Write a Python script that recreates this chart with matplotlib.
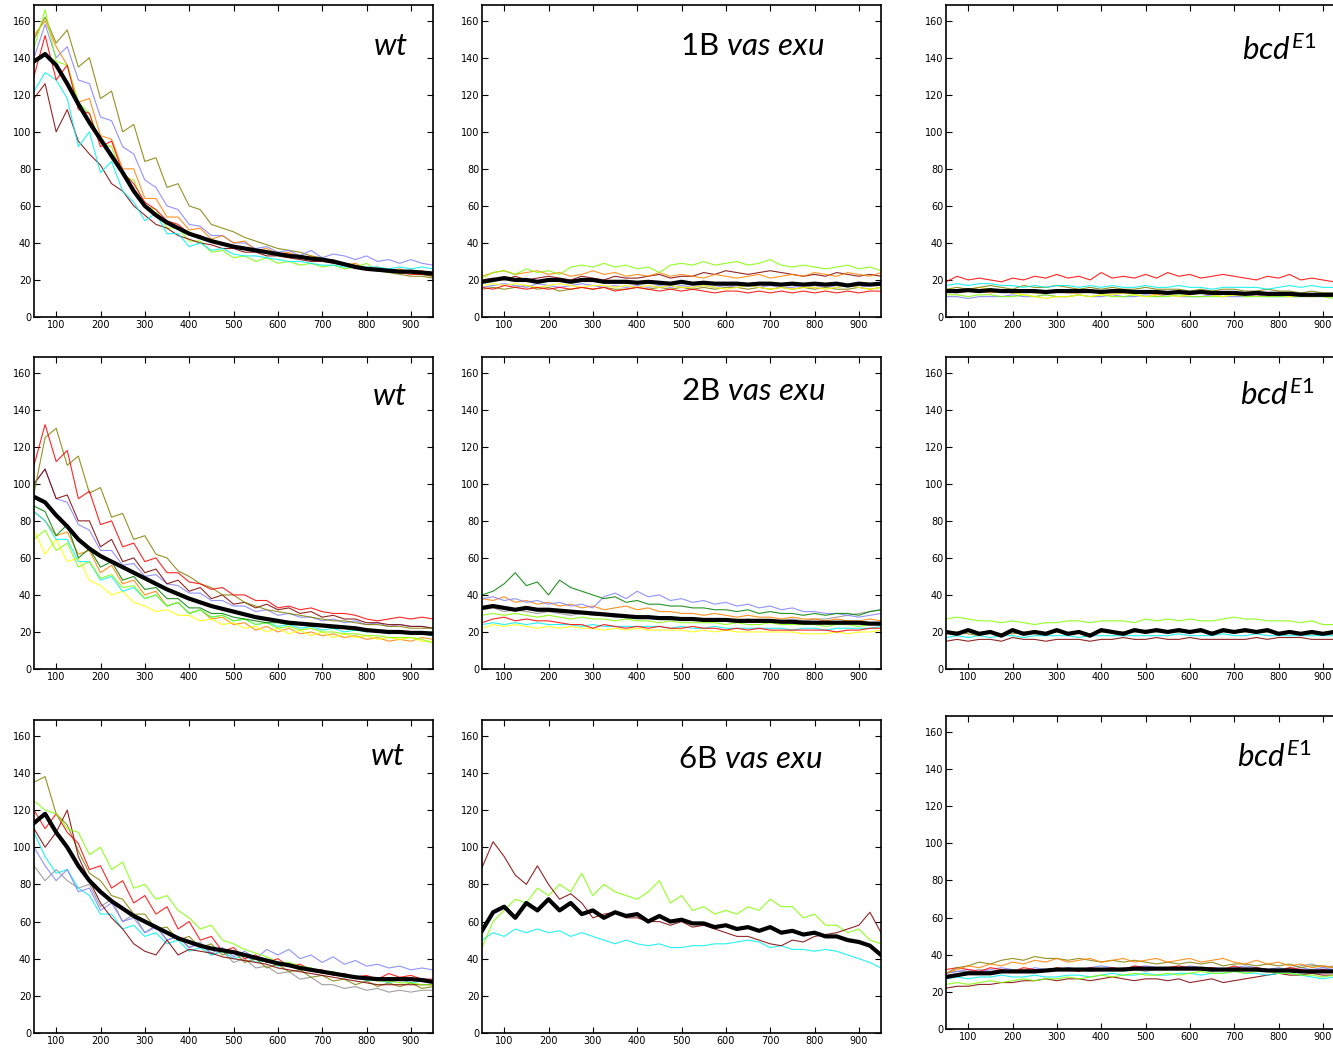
import numpy as np
import matplotlib
matplotlib.use("Agg")
import matplotlib.pyplot as plt

plt.rcParams['mathtext.fontset'] = 'custom'
plt.rcParams['mathtext.rm'] = 'Lato'
plt.rcParams['mathtext.it'] = 'Lato:italic'

# sample positions along the embryo axis
x = np.arange(50, 951, 25)

# colours of the single embryo traces
RED, DRED, OLIVE, BLUE = '#ff0000', '#800000', '#808000', '#8080ff'
CYAN, LIME, ORANGE, YELLOW = '#00f0f0', '#80ff00', '#ff8000', '#ffff00'
GRAY, DGREEN = '#909090', '#008000'

# ---- row 1 -------------------------------------------------------------
wt1_black = [138,142,136,126,115,105,96,87,78,68, 60,55,51,48,45,43,41,39.5,38,37,
             36,35,34,33,32.5,31.5,31,30,28.5,27, 26,25.5,25,24.5,24.5,24,23.5]
wt1_olive = [150,162,148,155,135,140,118,122,100,104, 84,86,70,72,60,58,50,48,46,43,
             41,39,37,36,35,33,32,30,29,28, 26,25,24,23,22,22,21]
wt1_blue = [140,158,140,146,128,126,108,106,92,88, 74,70,60,58,50,49,44,44,40,40,
            37,38,35,36,33,36,32,34,33,31, 33,30,31,29,31,29,28]
wt1_red = [130,152,128,136,112,110,92,95,78,72, 62,58,52,50,45,44,41,40,38,37,
           36,35,34,34,32,31,31,30,28,27, 26,25,25,24,23,23,23]
wt1_darkred = [118,126,100,112,95,88,82,72,68,60, 55,50,48,44,42,40,39,37,37,35,
               35,33,33,32,31,30,30,29,28,27, 26,25,25,24,24,23,22]
wt1_cyan = [122,132,128,118,92,100,78,84,68,62, 52,56,45,45,38,40,36,37,34,33,
            33,32,31,30,30,29,28,28,27,27, 27,27,26,27,26,27,26]
wt1_green = [145,166,138,136,116,110,94,92,76,74, 60,58,48,48,41,41,35,36,32,33,
             30,32,29,30,28,29,27,28,26,27, 29,25,25,24,24,23,22]
wt1_orange = [152,160,146,136,116,118,98,96,80,80, 64,64,54,54,47,48,42,44,40,41,
              36,37,34,35,32,33,30,31,28,29, 26,27,25,26,24,25,23]

vx1_black = [19,20,21,20,20,19,20,20,19,20, 20,19,19,19,18.5,19,18.5,18,19,18,
             18.5,18,18,18,17.5,18,18,17.5,18,17.5, 18,17.5,18,17,18,17.5,18]
vx1_green = [21,24,25,23,26,24,25,23,27,28, 27,29,27,28,26,27,24,28,29,28,
             30,28,29,30,28,29,31,28,27,28, 27,26,27,28,26,27,25]
vx1_orange = [22,24,25,23,24,25,23,24,22,23, 25,23,24,22,23,22,24,22,23,22,
              21,23,22,21,22,23,21,22,23,22, 24,23,22,24,23,22,24]
vx1_darkred = [20,21,20,22,20,21,22,21,20,22, 21,20,22,21,21,22,23,21,22,22,
               24,23,25,24,23,24,25,24,23,22, 23,22,24,23,22,23,22]
vx1_red = [16,15,17,16,15,16,15,16,15,16, 15,16,14,15,16,15,14,15,14,15,
           14,13,14,14,13,14,13,14,13,14, 13,14,13,14,13,14,14]
vx1_yellow = [17,18,17,18,17,16,17,18,17,16, 17,17,16,17,16,17,16,17,16,16,
              17,16,15,16,17,16,15,16,15,16, 16,15,16,17,16,15,16]
vx1_blue = [16,17,18,17,16,18,17,16,17,18, 17,16,17,16,17,16,17,16,17,16,
            17,16,17,16,17,16,17,16,16,17, 16,17,16,17,16,17,17]
vx1_olive = [15,16,15,16,17,15,16,14,15,16, 15,16,15,15,16,15,16,15,16,15,
             16,15,16,16,15,16,15,16,15,16, 15,16,15,15,16,15,16]

bcd1_black = [14,14,14.5,14,14.5,14,14,14,14,13.5, 14,14,14,14,13.5,14,14,13.5,13.5,13.5,
              13,13.5,13,13.5,13,13,13,12.5,13,12.5, 12.5,12.5,12,12,12,12,12]
bcd1_red = [19,22,20,21,20,19,21,20,22,21, 23,21,22,20,24,21,22,21,23,21,
            24,22,23,21,22,23,22,21,20,22, 21,23,20,21,20,19,19]
bcd1_cyan = [17,18,17,18,18,17,17,16,17,16, 17,17,16,17,16,17,16,16,17,16,
             16,17,16,16,15,16,16,16,16,15, 16,17,16,17,16,16,15]
bcd1_olive = [15,16,15,16,17,16,15,17,16,16, 17,16,15,16,15,16,15,15,16,15,
              15,15,14,15,14,15,15,14,14,15, 14,14,13,14,13,13,13]
bcd1_yellow = [13,14,15,16,15,14,13,12,11,10, 11,11,12,11,12,12,13,12,11,12,
               12,11,12,13,12,11,12,12,13,12, 12,11,12,11,12,11,10]
bcd1_green = [12,12,11,12,12,11,11,12,11,12, 11,11,12,11,12,11,11,12,11,11,
              11,12,11,11,11,11,12,11,11,11, 11,11,11,11,11,10,11]
bcd1_blue = [11,11,10,11,11,11,12,11,11,12, 11,11,12,11,11,12,11,11,12,11,
             12,11,11,11,12,11,11,11,12,11, 11,11,11,11,11,11,11]
bcd1_orange = [14,13,14,14,13,14,13,14,13,13, 14,13,13,14,13,13,13,13,13,12,
               13,13,12,13,12,13,12,12,12,12, 12,12,12,11,12,11,12]

# ---- row 2 -------------------------------------------------------------
wt2_black = [93,90,83,77,70,65,61,58,55,52, 49,46,43,40.5,38,36,34,32.5,31,29.5,
             28,27,26,25,24.5,24,23.5,23,22.5,22, 21,20.5,20,20,19.5,19.5,19]
wt2_red = [110,132,112,118,92,96,78,80,66,68, 58,60,52,52,47,46,43,44,40,40,
           37,37,33,34,32,33,31,30,30,29, 27,26,27,28,27,28,27]
wt2_olive = [95,125,130,110,115,95,98,82,84,70, 72,62,60,53,50,46,44,40,40,36,
             34,32,31,30,29,28,27,26,26,25, 24,24,23,23,22,22,22]
wt2_yellow = [75,62,70,58,60,48,45,40,42,36, 34,31,32,29,29,26,27,24,25,22,
              23,20,22,19,21,18,20,17,19,17, 18,16,17,16,17,15,15]
wt2_darkgreen = [88,85,72,78,60,65,55,58,48,50, 43,44,38,38,33,33,30,30,28,27,
                 26,25,25,24,24,23,23,22,22,21, 21,21,20,20,20,20,20]
wt2_orange = [85,80,72,74,62,64,52,56,46,48, 40,42,34,36,30,32,27,28,24,25,
              21,23,20,22,19,20,18,19,17,18, 16,17,15,16,15,17,16]
wt2_blue = [100,108,92,90,78,75,64,64,56,57, 50,51,46,45,41,41,37,37,34,34,
            31,32,29,30,28,28,26,27,25,26, 24,25,23,24,23,23,22]
wt2_darkred = [100,108,92,94,80,80,66,70,58,60, 52,54,46,48,42,44,38,40,35,36,
               33,35,32,33,30,31,28,29,27,27, 25,25,24,24,23,23,22]
wt2_cyan = [85,80,70,70,58,58,48,50,42,44, 38,40,34,36,30,32,28,29,26,27,
            24,25,23,24,22,23,21,22,20,21, 20,21,19,20,19,19,18]
wt2_green = [70,75,64,68,55,58,49,51,44,45, 38,40,34,36,30,32,28,29,26,27,
             24,25,22,23,21,22,20,20,19,19, 18,18,17,17,17,16,14]

vx2_black = [33,34,33,32,33,32,32,31.5,31,30.5, 30,29.5,29,28.5,28,28,27.5,27.5,27,27,
             26.5,26.5,26.5,26,26,26,26,25.5,25.5,25, 25,25,25,25,25,24.5,24.5]
vx2_darkgreen = [40,42,46,52,45,47,40,48,44,42, 40,38,39,36,37,35,35,34,34,33,
                 33,32,32,31,32,30,31,30,30,29, 30,29,30,30,29,31,32]
vx2_blue = [38,39,37,38,36,37,35,36,34,35, 33,39,41,38,42,39,40,37,38,36,
            37,35,36,34,35,33,34,32,33,31, 31,30,30,29,28,29,30]
vx2_orange = [38,37,39,36,37,35,36,34,35,33, 34,32,33,34,32,33,31,31,30,30,
              29,30,29,28,29,28,28,27,28,27, 27,26,27,26,26,27,26]
vx2_gray = [32,33,31,32,31,30,31,30,29,30, 29,29,28,29,28,28,27,28,27,27,
            27,26,27,26,27,26,26,26,27,26, 27,27,28,29,30,31,32]
vx2_lime = [29,30,29,30,29,28,29,28,27,28, 27,27,26,27,26,26,25,26,25,25,
            25,25,24,25,24,24,25,24,24,24, 24,23,24,24,23,24,24]
vx2_red = [25,27,28,26,27,26,26,25,24,24, 22,24,23,22,23,22,23,22,22,23,
           22,22,21,22,21,22,21,21,21,21, 21,21,20,21,21,22,22]
vx2_yellow = [22,24,23,24,23,22,23,22,23,22, 22,21,22,21,22,21,21,21,21,20,
              21,20,21,20,20,20,20,20,20,19, 19,19,20,19,20,20,21]
vx2_cyan = [24,25,24,25,24,25,24,24,24,23, 24,23,23,23,23,23,23,22,23,22,
            22,23,22,22,22,22,22,22,21,22, 22,21,22,22,22,22,23]

bcd2_black = [20,19,21,19,20,18,21,19,20,19, 21,19,20,18,21,20,19,21,20,21,
              20,21,20,21,19,21,20,21,20,21, 19,20,19,20,19,20,19]
bcd2_lime = [27,28,27,26,26,25,26,25,24,25, 25,26,26,25,26,26,26,25,27,26,
             27,26,27,26,26,27,28,27,27,26, 26,26,25,26,24,24,23]
bcd2_darkred = [15,16,15,16,16,15,17,16,16,15, 16,16,16,15,16,16,17,16,16,17,
                16,16,17,16,16,16,16,16,17,16, 17,17,17,16,16,16,16]
bcd2_cyan = [17,18,17,18,17,18,18,17,18,18, 18,18,17,18,18,18,18,18,18,18,
             18,19,18,18,18,19,18,18,19,18, 18,18,18,18,18,18,17]
bcd2_olive = [19,20,19,18,20,19,19,20,19,19, 20,19,20,19,20,20,20,20,21,20,
              20,20,20,20,20,20,20,20,20,20, 19,20,19,19,19,19,19]

# ---- row 3 -------------------------------------------------------------
wt3_black = [113,118,108,100,90,82,76,71,67,63, 60,57,54,51,49,47,45.5,44.5,43.5,42,
             40.5,39,37.5,36.5,35,34,33,32,31,30, 29.5,29,29,29,29,28.5,27.5]
wt3_lime = [125,120,118,110,108,96,100,88,92,78, 80,72,74,66,62,56,58,50,48,45,
            43,41,38,38,36,35,33,33,31,30, 29,28,28,27,27,26,26]
wt3_blue = [100,90,82,88,76,78,66,70,60,62, 54,57,50,52,46,48,43,46,41,44,
            40,45,42,45,40,42,38,41,37,39, 36,37,35,36,34,35,34]
wt3_gray = [90,82,88,82,78,80,68,72,60,64, 54,58,50,52,46,49,42,44,38,40,
            35,36,32,33,29,30,26,26,24,25, 23,24,22,23,22,23,23]
wt3_darkred = [110,100,108,120,95,82,70,62,56,48, 44,42,50,42,45,44,43,41,40,39,
               38,37,35,34,33,32,31,30,29,28, 27,26,26,26,26,26,26]
wt3_red = [120,110,118,108,102,88,90,78,82,70, 74,64,68,56,60,50,52,44,46,40,
           42,38,40,36,37,34,34,31,32,30, 31,29,32,30,31,29,29]
wt3_olive = [135,138,118,112,98,86,82,74,72,64, 64,56,57,50,52,46,48,42,44,38,
             40,35,37,33,34,30,31,28,29,26, 28,25,27,25,27,24,25]
wt3_cyan = [108,95,86,88,78,74,64,64,56,58, 52,54,48,50,44,46,42,44,40,42,
            38,39,36,37,34,35,32,33,30,31, 28,29,27,29,27,28,27]

vx3_black = [55,65,68,62,70,66,72,66,70,64, 66,62,65,63,64,60,63,60,61,59,
             59,57,58,56,57,55,57,54,55,53, 54,52,52,50,49,47,42]
vx3_darkred = [89,103,95,85,80,90,80,72,75,70, 62,64,65,62,62,60,60,58,60,57,
               58,56,54,52,52,50,48,47,50,49, 52,53,54,56,58,65,54]
vx3_lime = [46,60,66,72,70,78,74,80,76,86, 74,80,76,74,72,76,82,70,74,66,
            68,64,66,64,68,66,72,68,68,62, 64,58,58,54,56,50,48]
vx3_cyan = [50,54,52,56,54,56,54,55,52,54, 52,50,48,50,48,47,48,46,46,47,
            47,48,48,49,50,49,46,47,45,45, 44,45,44,42,40,38,35]

bcd3_black = [28,29,30,30,30,31,31,31,31,31.5, 32,32,32,32,32,32,32,32.5,32.5,32.5,
              32.5,32.5,32.5,32.5,32,32,32,32,32,31.5, 31.5,31.5,31,31,31,31,31]
bcd3_orange = [30,32,34,33,35,34,36,35,37,36, 38,36,37,38,36,37,38,36,37,38,
               36,37,38,36,37,38,36,35,37,35, 36,34,35,33,34,33,33]
bcd3_olive = [30,33,34,36,35,37,38,37,39,38, 38,37,38,37,36,37,36,37,36,35,
              36,35,36,35,36,34,35,35,34,35, 34,35,33,34,34,33,33]
bcd3_red = [32,33,32,31,33,32,31,33,32,31, 33,32,31,33,32,33,32,34,33,32,
            33,34,33,32,33,32,34,32,33,32, 31,33,32,31,32,31,31]
bcd3_blue = [30,31,32,31,32,33,32,31,33,32, 32,33,32,33,34,33,32,33,34,33,
             33,32,34,33,33,32,33,34,33,32, 33,32,33,32,33,32,32]
bcd3_gray = [30,31,31,32,31,32,31,32,32,31, 32,33,32,31,32,32,33,32,31,32,
             32,33,32,32,31,32,32,33,32,32, 32,33,34,35,33,34,33]
bcd3_lime = [24,25,24,25,26,25,26,27,26,27, 27,28,27,28,29,28,29,30,29,29,
             30,29,30,31,30,30,31,30,31,31, 30,30,29,29,28,29,28]
bcd3_cyan = [27,28,27,28,28,29,28,28,29,28, 28,29,29,28,29,30,29,29,30,29,
             29,30,30,29,30,30,31,30,30,29, 30,30,29,28,27,28,27]
bcd3_darkred = [22,23,23,24,24,25,25,26,26,27, 26,27,27,26,27,28,27,26,27,27,
                26,27,25,26,27,25,26,27,28,29, 30,29,29,30,29,29,29]

# ---- panel layout (pixel boxes: left, top, right, bottom) ----------------
W, H = 1333, 1048
panels = [
    ((34, 5, 433, 317), [(wt1_olive, OLIVE), (wt1_blue, BLUE), (wt1_orange, ORANGE),
                        (wt1_green, LIME), (wt1_darkred, DRED), (wt1_cyan, CYAN),
                        (wt1_red, RED)], wt1_black),
    ((482, 5, 881, 317), [(vx1_olive, OLIVE), (vx1_blue, BLUE), (vx1_yellow, YELLOW),
                         (vx1_red, RED), (vx1_darkred, DRED), (vx1_orange, ORANGE),
                         (vx1_green, LIME)], vx1_black),
    ((946, 5, 1345, 317), [(bcd1_blue, BLUE), (bcd1_green, LIME), (bcd1_yellow, YELLOW),
                          (bcd1_orange, ORANGE), (bcd1_olive, OLIVE), (bcd1_cyan, CYAN),
                          (bcd1_red, RED)], bcd1_black),
    ((34, 357, 433, 669), [(wt2_orange, ORANGE), (wt2_yellow, YELLOW), (wt2_cyan, CYAN),
                          (wt2_green, LIME), (wt2_blue, BLUE), (wt2_darkred, DRED),
                          (wt2_olive, OLIVE), (wt2_darkgreen, DGREEN), (wt2_red, RED)], wt2_black),
    ((482, 357, 881, 669), [(vx2_yellow, YELLOW), (vx2_cyan, CYAN), (vx2_red, RED),
                           (vx2_lime, LIME), (vx2_gray, GRAY), (vx2_orange, ORANGE),
                           (vx2_blue, BLUE), (vx2_darkgreen, DGREEN)], vx2_black),
    ((946, 357, 1345, 669), [(bcd2_darkred, DRED), (bcd2_cyan, CYAN), (bcd2_olive, OLIVE),
                            (bcd2_lime, LIME)], bcd2_black),
    ((34, 720, 433, 1033), [(wt3_gray, GRAY), (wt3_cyan, CYAN), (wt3_blue, BLUE),
                           (wt3_olive, OLIVE), (wt3_darkred, DRED), (wt3_red, RED),
                           (wt3_lime, LIME)], wt3_black),
    ((482, 720, 881, 1033), [(vx3_cyan, CYAN), (vx3_lime, LIME), (vx3_darkred, DRED)], vx3_black),
    ((946, 716, 1345, 1029), [(bcd3_darkred, DRED), (bcd3_cyan, CYAN), (bcd3_lime, LIME),
                             (bcd3_gray, GRAY), (bcd3_blue, BLUE), (bcd3_red, RED),
                             (bcd3_olive, OLIVE), (bcd3_orange, ORANGE)], bcd3_black),
]

fig = plt.figure(figsize=(W / 100, H / 100), dpi=100)

for (l, t, r, b), traces, black in panels:
    ax = fig.add_axes([l / W, 1 - b / H, (r - l) / W, (b - t) / H])
    for vals, col in traces:
        ax.plot(x, vals, color=col, lw=0.8, alpha=0.85)
    ax.plot(x, black, color='black', lw=3)
    ax.set_xlim(50, 950)
    ax.set_ylim(0, 168.5)
    ax.set_xticks(range(100, 901, 100))
    ax.set_yticks(range(0, 161, 20))
    ax.tick_params(direction='in', length=4, width=0.8, top=True, right=True,
                   labelsize=7, pad=2, colors='black')
    for s in ax.spines.values():
        s.set_linewidth(1.2)

# panel labels (pixel position of text start / end and baseline)
def label(s, px, py, ha):
    fig.text(px / W, 1 - py / H, s, fontsize=22.5, family='Lato', ha=ha, va='baseline')

label(r'$\mathit{wt}$', 408, 55, 'right')
label(r'$\mathit{wt}$', 407, 405, 'right')
label(r'$\mathit{wt}$', 405, 765, 'right')
label(r'1B $\mathit{vas\ exu}$', 680, 55, 'left')
label(r'2B $\mathit{vas\ exu}$', 681, 400, 'left')
label(r'6B $\mathit{vas\ exu}$', 678, 768, 'left')
label(r'$\mathit{bcd}^{\mathit{E1}}$', 1242, 60, 'left')
label(r'$\mathit{bcd}^{\mathit{E1}}$', 1240, 405, 'left')
label(r'$\mathit{bcd}^{\mathit{E1}}$', 1237, 767, 'left')

fig.savefig('out.png', dpi=100)
